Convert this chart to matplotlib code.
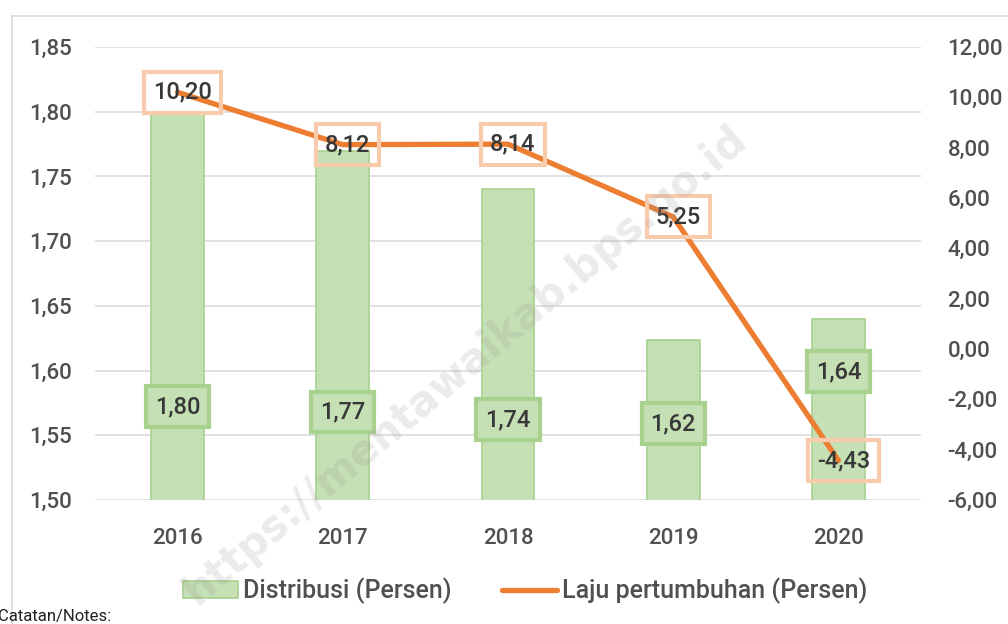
import matplotlib
matplotlib.use("Agg")
import matplotlib.pyplot as plt
import numpy as np
from matplotlib.ticker import FuncFormatter, MultipleLocator
from matplotlib.lines import Line2D
from matplotlib.patches import Patch

# data
years = ["2016", "2017", "2018", "2019", "2020"]
distribusi = [1.80, 1.77, 1.74, 1.624, 1.64]
laju = [10.20, 8.12, 8.14, 5.25, -4.43]
# where the green value boxes sit (left-axis units)
dist_label_y = [1.572, 1.568, 1.562, 1.559, 1.599]

plt.rcParams['font.family'] = ['Roboto', 'DejaVu Sans']
plt.rcParams['font.weight'] = 'medium'
txt = '#505050'
dark = '#383838'

def comma(v, _=None):
    return f"{v:.2f}".replace('.', ',')

fig = plt.figure(figsize=(10.08, 6.24), dpi=100)
ax = fig.add_axes([95/1008, 1 - 500/624, (921-95)/1008, (500-47)/624])
ax2 = ax.twinx()

x = np.arange(len(years))
ax.bar(x, distribusi, width=0.32, color='#C5E0B4', edgecolor='#A9D18E', linewidth=1.2, zorder=2)
ax.set_ylim(1.50, 1.85)
ax.set_xlim(-0.5, len(years) - 0.5)
ax.yaxis.set_major_locator(MultipleLocator(0.05))
ax.yaxis.set_major_formatter(FuncFormatter(comma))
ax.grid(axis='y', color='#d9d9d9', linewidth=1.1, zorder=0)
ax.set_axisbelow(True)
ax.set_xticks(x)
ax.set_xticklabels(years)

ax2.plot(x, laju, color='#ED7D31', linewidth=3.8, solid_capstyle='round', zorder=3)
ax2.set_ylim(-6, 12)
ax2.yaxis.set_major_locator(MultipleLocator(2))
ax2.yaxis.set_major_formatter(FuncFormatter(comma))

for a in (ax, ax2):
    for s in a.spines.values():
        s.set_visible(False)
    a.tick_params(length=0, labelsize=16, colors=txt)
ax.tick_params(axis='y', pad=17)
ax.tick_params(axis='x', pad=20)
ax2.tick_params(axis='y', pad=19)

for xi, v, ly in zip(x, distribusi, dist_label_y):
    ax.text(xi, ly, comma(v), ha='center', va='center', fontsize=17, color=dark, zorder=5,
            bbox=dict(boxstyle='square,pad=0.38', facecolor='#C5E0B4', edgecolor='#A9D18E', linewidth=3))

for xi, v in zip(x, laju):
    ax2.text(xi + 0.03, v, comma(v), ha='center', va='center', fontsize=17, color=dark, zorder=5,
             bbox=dict(boxstyle='square,pad=0.38', facecolor='none',
                       edgecolor='#F8CBAD', linewidth=3))

handles = [Patch(facecolor='#C5E0B4', edgecolor='#A9D18E', linewidth=1.2),
           Line2D([0], [0], color='#ED7D31', linewidth=3.8, solid_capstyle='round')]
fig.legend(handles, ['Distribusi (Persen)', 'Laju pertumbuhan (Persen)'],
           loc='center', bbox_to_anchor=(525/1008, 1 - 591/624), ncol=2, frameon=False,
           fontsize=18, labelcolor=txt, handlelength=2.2, handletextpad=0.2, columnspacing=2.0)

# watermark
fig.text(465/1008, 1 - 365/624, 'https://mentawaikab.bps.go.id', rotation=40, ha='center', va='center',
         fontsize=30, fontweight='bold', color='#9a9a9a', alpha=0.2, family='DejaVu Sans', zorder=10)

# outer frame (top and left edges visible)
fig.add_artist(Line2D([12/1008, 12/1008], [0, 1 - 16/624], color='#d9d9d9', linewidth=1.2))
fig.add_artist(Line2D([12/1008, 1], [1 - 16/624, 1 - 16/624], color='#d9d9d9', linewidth=1.2))

fig.text(-2/1008, 1 - 617/624, 'Catatan/Notes:', ha='left', va='center', fontsize=12,
         fontweight='normal', color='#202020')

fig.savefig('out.png', dpi=100)
